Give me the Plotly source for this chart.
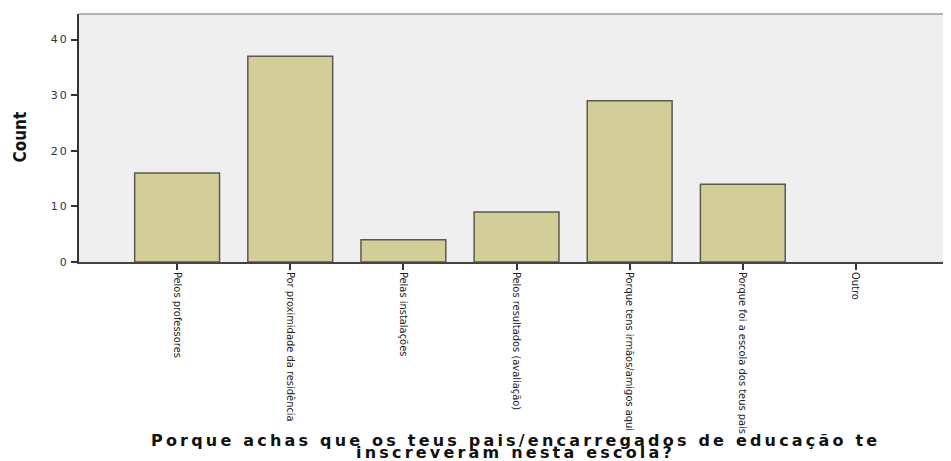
import plotly.graph_objects as go

categories = [
    "Pelos professores",
    "Por proximidade da residência",
    "Pelas instalações",
    "Pelos resultados (avaliação)",
    "Porque tens irmãos/amigos aqui",
    "Porque foi a escola dos teus pais",
    "Outro",
]
counts = [16, 37, 4, 9, 29, 14, 0]
y_ticks = [0, 10, 20, 30, 40]
y_label = "Count"
x_title_lines = [
    "Porque achas que os teus pais/encarregados de educação te",
    "inscreveram nesta escola?",
]

# page body has an 8px margin; compensate so the plot lands where the reference has it
W, H = 943, 453
L, T, B = 71, 6, 199
plot_w = W - L
plot_h = H - T - B


def spaced(s, px):
    return f'<span style="letter-spacing:{px}px">{s}</span>'


fig = go.Figure()
fig.add_trace(go.Bar(
    x=categories,
    y=counts,
    width=0.75,
    marker=dict(
        color="#d3ce98",
        line=dict(color="#5a5a50", width=[1.5 if v > 0 else 0 for v in counts]),
    ),
    hoverinfo="x+y",
))

fig.update_layout(
    width=W,
    height=H,
    margin=dict(l=L, r=0, t=T, b=B, autoexpand=False),
    paper_bgcolor="white",
    plot_bgcolor="#efefef",
    showlegend=False,
    xaxis=dict(
        type="category",
        range=[-0.867, 6.84],
        tickangle=90,
        ticks="outside",
        ticklen=6,
        tickwidth=1.5,
        tickcolor="#333333",
        showline=True,
        linecolor="#444444",
        linewidth=1.5,
        showgrid=False,
        automargin=False,
        tickfont=dict(family="DejaVu Sans Condensed, Liberation Sans Narrow, sans-serif", size=11, color="#222222"),
    ),
    yaxis=dict(
        range=[0, 44.6],
        tickvals=y_ticks,
        ticktext=[spaced(str(v), 2) for v in y_ticks],
        ticks="outside",
        ticklen=6,
        tickwidth=1.5,
        tickcolor="#333333",
        showline=True,
        linecolor="#333333",
        linewidth=2,
        showgrid=False,
        zeroline=False,
        automargin=False,
        tickfont=dict(family="DejaVu Sans, Verdana, sans-serif", size=11, color="#333333"),
    ),
    annotations=[
        dict(
            text=y_label, xref="paper", yref="paper", x=-59 / plot_w, y=0.502,
            xanchor="center", yanchor="middle", textangle=-90, showarrow=False,
            font=dict(family="DejaVu Sans Condensed, Liberation Sans Narrow, sans-serif", size=17, color="#111111", weight="bold"),
        ),
        dict(
            text=spaced(x_title_lines[0], 3.2), xref="paper", yref="paper", x=0.5, y=-178 / plot_h,
            xanchor="center", yanchor="middle", showarrow=False,
            font=dict(family="DejaVu Sans, Verdana, sans-serif", size=16, color="#111111", weight="bold"),
        ),
        dict(
            text=spaced(x_title_lines[1], 3.2), xref="paper", yref="paper", x=0.5, y=-191 / plot_h,
            xanchor="center", yanchor="middle", showarrow=False,
            font=dict(family="DejaVu Sans, Verdana, sans-serif", size=16, color="#111111", weight="bold"),
        ),
    ],
    shapes=[
        dict(type="line", xref="paper", yref="paper", x0=0, x1=1, y0=1, y1=1,
             line=dict(color="#999999", width=1.5)),
    ],
)

fig.write_html("out.html")
